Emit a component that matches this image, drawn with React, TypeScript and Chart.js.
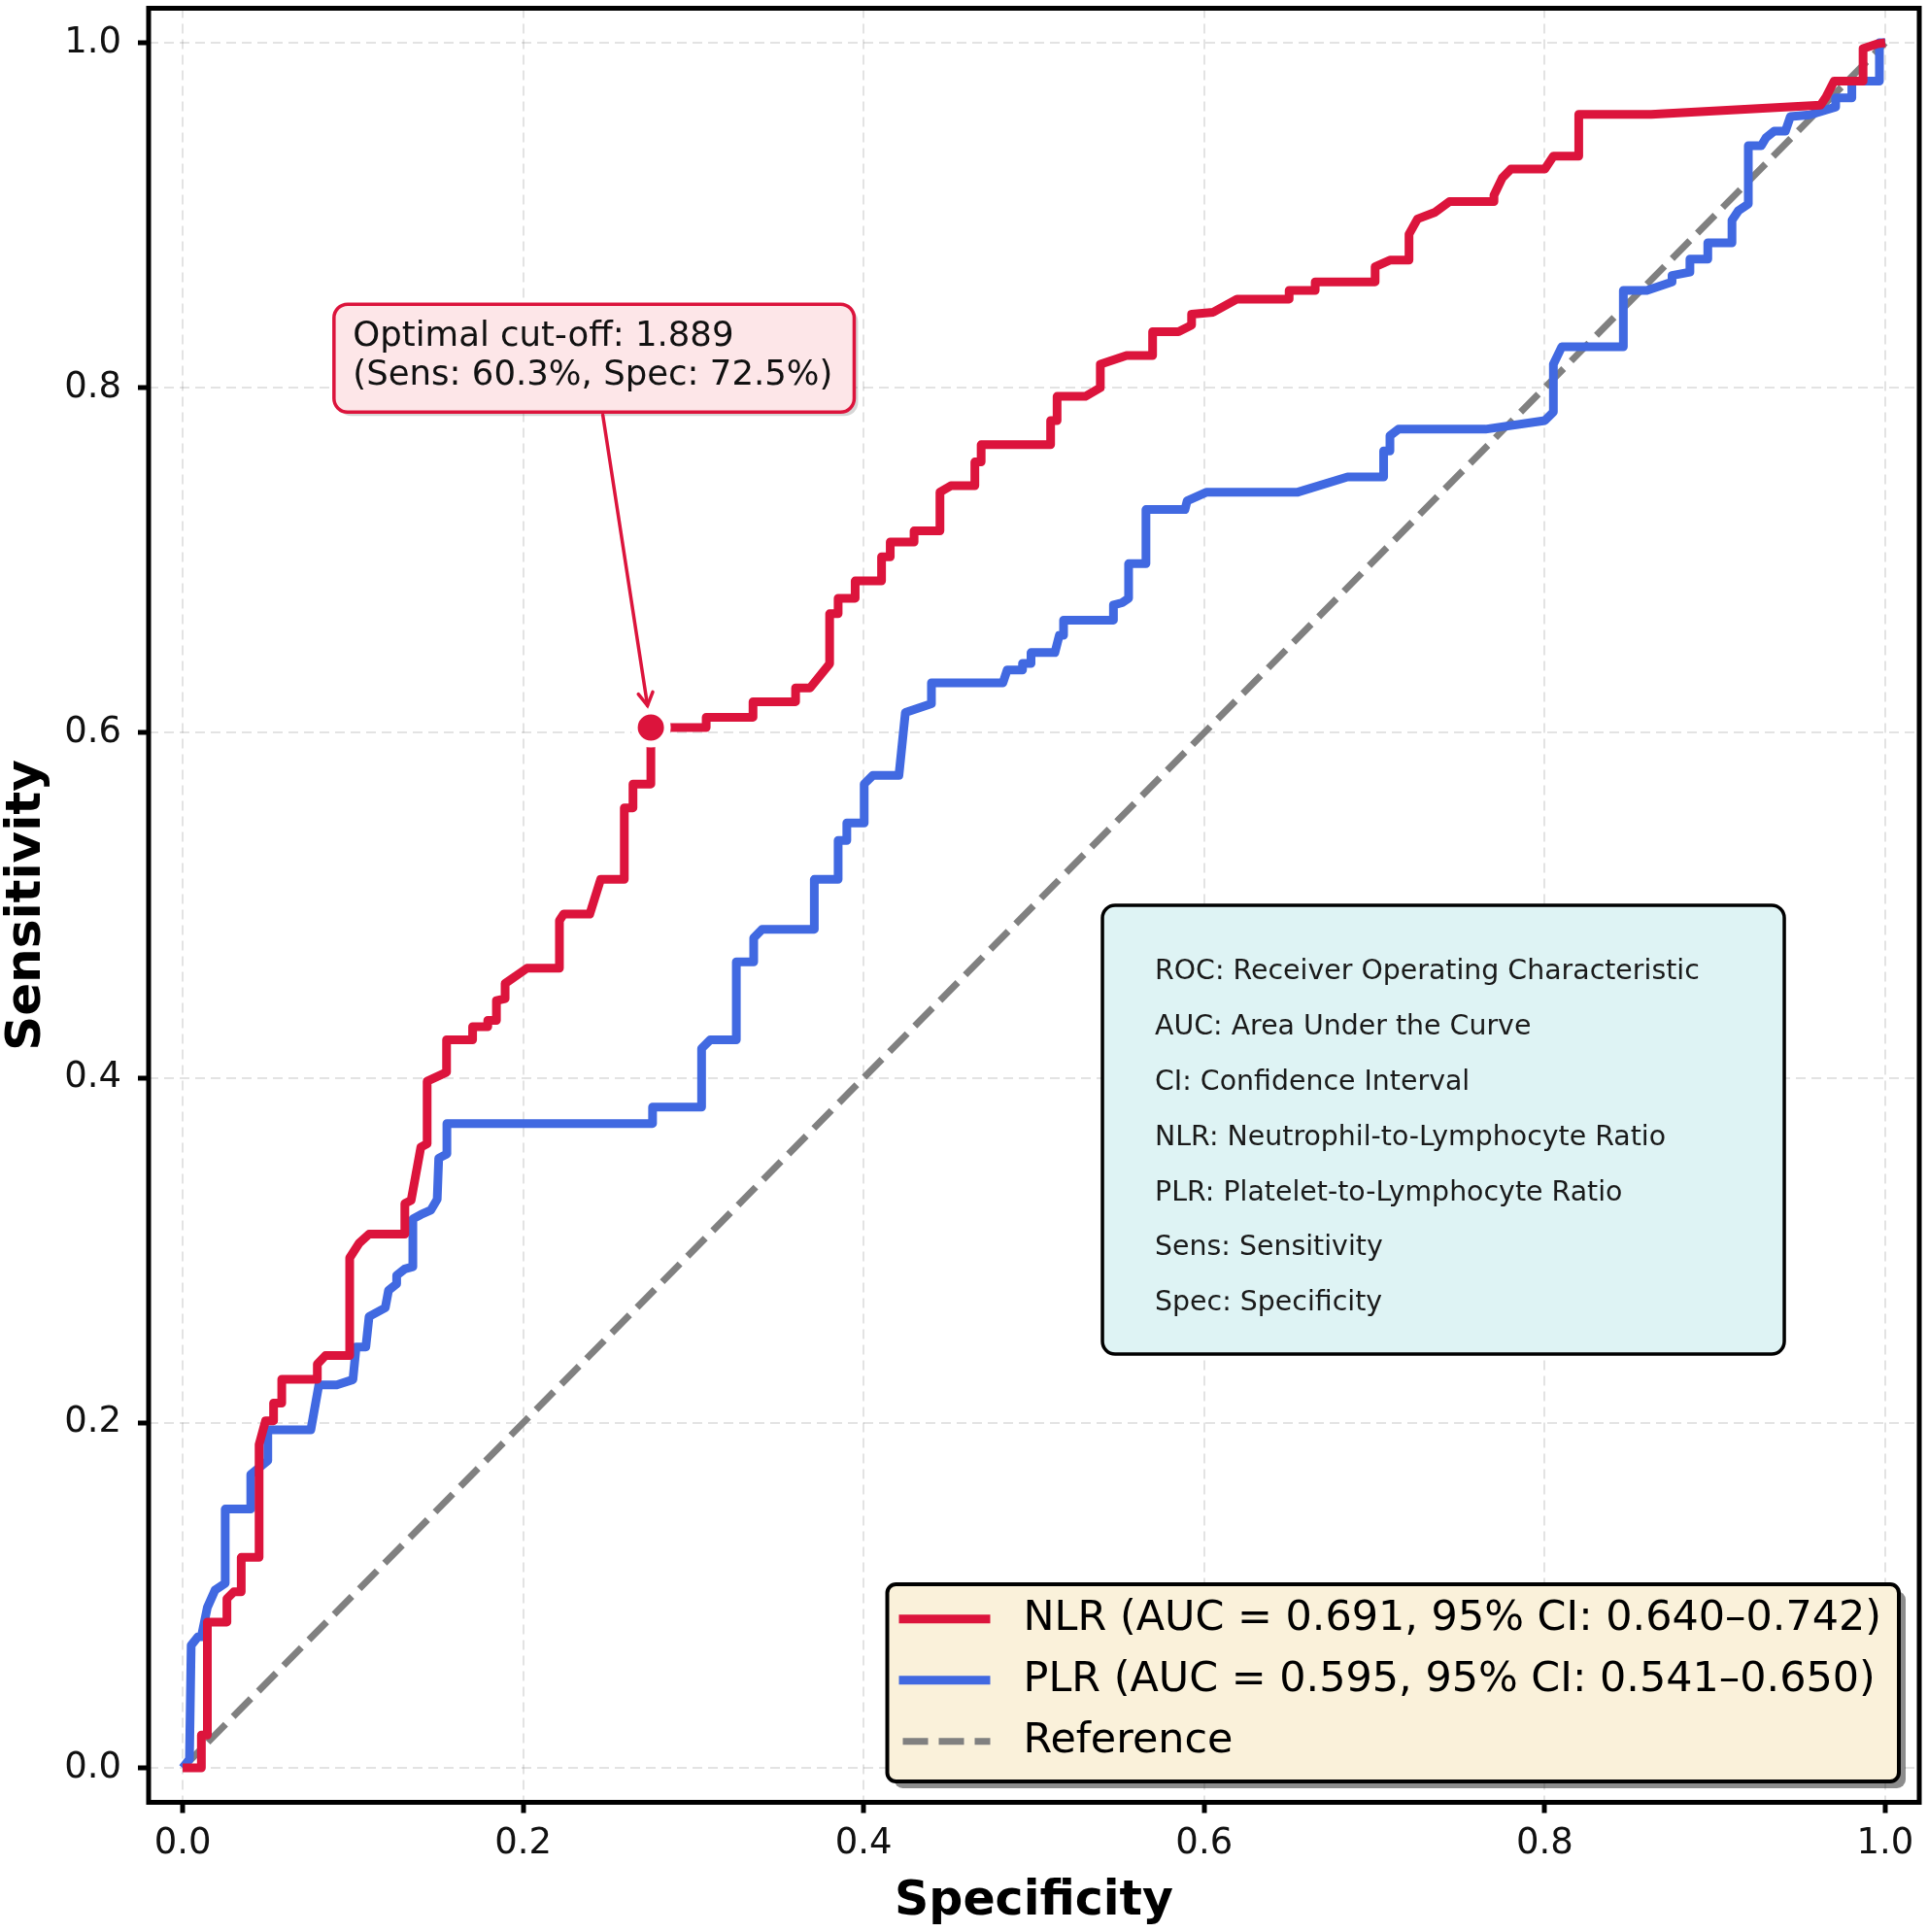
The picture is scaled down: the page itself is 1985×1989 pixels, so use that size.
import React, { useEffect, useRef } from "react";
import { Chart, registerables } from "chart.js";

Chart.register(...registerables);

const FONT = "'DejaVu Sans', 'Noto Sans', sans-serif";

// Axis tick positions (both axes)
const tickValues = [0, 0.2, 0.4, 0.6, 0.8, 1.0];

// NLR ROC curve vertices
const nlrFpr = [
  0, 0.011, 0.011, 0.0145, 0.0145, 0.026, 0.026, 0.03, 0.0344, 0.0344, 0.0449, 0.0449, 0.0487, 0.0534, 0.0534,
  0.0582, 0.0582, 0.0791, 0.0791, 0.0839, 0.0981, 0.0981, 0.1038, 0.1095, 0.1305, 0.1305, 0.1342, 0.1399, 0.1436,
  0.1436, 0.155, 0.155, 0.1703, 0.1703, 0.1792, 0.1792, 0.1843, 0.1843, 0.1894, 0.1894, 0.2022, 0.2213, 0.2213,
  0.2238, 0.2391, 0.2455, 0.2594, 0.2594, 0.2645, 0.2645, 0.275, 0.275, 0.3075, 0.3075, 0.335, 0.335, 0.36, 0.36,
  0.3685, 0.38, 0.38, 0.385, 0.385, 0.395, 0.395, 0.4105, 0.4105, 0.4156, 0.4156, 0.4296, 0.4296, 0.4448, 0.4448,
  0.4512, 0.4653, 0.4653, 0.469, 0.469, 0.5098, 0.5098, 0.5136, 0.5136, 0.5302, 0.539, 0.539, 0.5544, 0.5697,
  0.5697, 0.5849, 0.5926, 0.5926, 0.6053, 0.6193, 0.6499, 0.6499, 0.6652, 0.6652, 0.7004, 0.7004, 0.7091, 0.7203,
  0.7203, 0.7253, 0.7353, 0.744, 0.7702, 0.7702, 0.7751, 0.7801, 0.8001, 0.8051, 0.82, 0.82, 0.8625, 0.962, 0.9652,
  0.97, 0.987, 0.987, 0.9956, 1.0,
];
const nlrTpr = [
  0, 0, 0.019, 0.019, 0.0845, 0.0845, 0.098, 0.102, 0.102, 0.122, 0.122, 0.1874, 0.2012, 0.2012, 0.2114, 0.2114,
  0.2252, 0.2252, 0.234, 0.239, 0.239, 0.2956, 0.3043, 0.3094, 0.3094, 0.3271, 0.329, 0.3598, 0.3617, 0.398, 0.4032,
  0.422, 0.422, 0.4296, 0.4296, 0.4333, 0.4333, 0.4447, 0.4459, 0.4547, 0.4635, 0.4635, 0.4911, 0.4949, 0.4949,
  0.515, 0.515, 0.5565, 0.5565, 0.5703, 0.5703, 0.603, 0.603, 0.609, 0.609, 0.618, 0.618, 0.626, 0.626, 0.64, 0.669,
  0.669, 0.678, 0.678, 0.688, 0.688, 0.702, 0.702, 0.7106, 0.7106, 0.717, 0.717, 0.7395, 0.7432, 0.7432, 0.757,
  0.757, 0.767, 0.767, 0.781, 0.781, 0.795, 0.795, 0.8, 0.8136, 0.8187, 0.8187, 0.8325, 0.8325, 0.8363, 0.8426,
  0.8438, 0.8514, 0.8514, 0.8564, 0.8564, 0.8614, 0.8614, 0.8702, 0.874, 0.874, 0.889, 0.8979, 0.9016, 0.9079,
  0.9079, 0.9116, 0.9217, 0.9268, 0.9268, 0.9343, 0.9343, 0.9585, 0.9585, 0.9638, 0.9685, 0.9778, 0.9778, 0.9966,
  0.9994, 1.0,
];

// PLR ROC curve vertices
const plrFpr = [
  0, 0.004, 0.005, 0.009, 0.011, 0.0145, 0.019, 0.025, 0.025, 0.04, 0.04, 0.05, 0.05, 0.0753, 0.08, 0.0905, 0.1,
  0.1019, 0.1076, 0.1095, 0.119, 0.1209, 0.1257, 0.1257, 0.1305, 0.1352, 0.1352, 0.1399, 0.1457, 0.1495, 0.1504,
  0.1552, 0.1552, 0.276, 0.276, 0.3048, 0.3048, 0.3099, 0.3252, 0.3252, 0.3354, 0.3354, 0.3404, 0.371, 0.371, 0.385,
  0.385, 0.3901, 0.3901, 0.4003, 0.4003, 0.4054, 0.4207, 0.4245, 0.4398, 0.4398, 0.4818, 0.4843, 0.4933, 0.4933,
  0.4983, 0.4983, 0.5123, 0.5149, 0.5174, 0.5174, 0.5467, 0.5467, 0.5518, 0.5556, 0.5556, 0.5658, 0.5658, 0.5887,
  0.59, 0.6015, 0.655, 0.6842, 0.7054, 0.7054, 0.7091, 0.7091, 0.7141, 0.7652, 0.8001, 0.8051, 0.8051, 0.81, 0.8462,
  0.8462, 0.86, 0.8748, 0.8748, 0.8853, 0.8853, 0.8958, 0.8958, 0.91, 0.91, 0.9139, 0.9196, 0.9196, 0.9272, 0.93,
  0.9348, 0.9414, 0.9443, 0.9557, 0.9709, 0.9709, 0.9804, 0.9804, 0.9966, 0.9966, 1.0,
];
const plrTpr = [
  0, 0.005, 0.071, 0.076, 0.076, 0.093, 0.103, 0.107, 0.15, 0.15, 0.17, 0.178, 0.196, 0.196, 0.222, 0.222, 0.225,
  0.244, 0.244, 0.2616, 0.2667, 0.2767, 0.2805, 0.2855, 0.2892, 0.2905, 0.3182, 0.3207, 0.3232, 0.3295, 0.3534,
  0.3559, 0.3735, 0.3735, 0.383, 0.383, 0.417, 0.422, 0.422, 0.4672, 0.4672, 0.481, 0.4861, 0.4861, 0.515, 0.515,
  0.5376, 0.5376, 0.5477, 0.5477, 0.5703, 0.5753, 0.5753, 0.6118, 0.6168, 0.629, 0.629, 0.6364, 0.6364, 0.6402,
  0.6402, 0.6465, 0.6465, 0.6565, 0.6565, 0.6653, 0.6653, 0.6741, 0.6754, 0.6779, 0.698, 0.698, 0.7294, 0.7294,
  0.7344, 0.7395, 0.7395, 0.7483, 0.7483, 0.7634, 0.7634, 0.7722, 0.776, 0.776, 0.781, 0.786, 0.8136, 0.8237, 0.8237,
  0.8564, 0.8564, 0.8614, 0.8651, 0.8671, 0.8746, 0.8746, 0.884, 0.884, 0.8971, 0.9028, 0.9065, 0.9403, 0.9403,
  0.945, 0.9488, 0.9488, 0.9572, 0.9582, 0.9628, 0.968, 0.968, 0.9778, 0.9778, 1.0, 1.0,
];

// Chance diagonal
const refFpr = [0, 1];
const refTpr = [0, 1];

const seriesLabels = [
  "NLR (AUC = 0.691, 95% CI: 0.640–0.742)",
  "PLR (AUC = 0.595, 95% CI: 0.541–0.650)",
  "Reference",
];
const seriesColors = ["#DC143C", "#4169E1", "#808080"];

// Optimal NLR cut-off (x = 1 - specificity)
const cutoffFpr = 0.275;
const cutoffTpr = 0.603;
const cutoffText = ["Optimal cut-off: 1.889", "(Sens: 60.3%, Spec: 72.5%)"];
const cutoffTextFpr = 0.1;
const cutoffTextTpr = 0.818;

const abbreviations = [
  "ROC: Receiver Operating Characteristic",
  "AUC: Area Under the Curve",
  "CI: Confidence Interval",
  "NLR: Neutrophil-to-Lymphocyte Ratio",
  "PLR: Platelet-to-Lymphocyte Ratio",
  "Sens: Sensitivity",
  "Spec: Specificity",
];

const toPoints = (xs: number[], ys: number[]) => xs.map((x, i) => ({ x, y: ys[i] }));

function roundRectPath(ctx: CanvasRenderingContext2D, x: number, y: number, w: number, h: number, r: number) {
  ctx.beginPath();
  ctx.moveTo(x + r, y);
  ctx.lineTo(x + w - r, y);
  ctx.arcTo(x + w, y, x + w, y + r, r);
  ctx.lineTo(x + w, y + h - r);
  ctx.arcTo(x + w, y + h, x + w - r, y + h, r);
  ctx.lineTo(x + r, y + h);
  ctx.arcTo(x, y + h, x, y + h - r, r);
  ctx.lineTo(x, y + r);
  ctx.arcTo(x, y, x + r, y, r);
  ctx.closePath();
}

const overlayPlugin = {
  id: "rocOverlay",
  afterDraw(chart: any) {
    const { ctx, chartArea: ca, scales } = chart;
    const xs = scales.x;
    const ys = scales.y;
    const caW = ca.right - ca.left;
    const caH = ca.bottom - ca.top;
    ctx.save();

    // axes frame
    ctx.strokeStyle = "#000";
    ctx.lineWidth = 5;
    ctx.setLineDash([]);
    ctx.strokeRect(ca.left, ca.top, caW, caH);

    // abbreviations box
    {
      const left = ca.left + 0.5387 * caW;
      const top = ca.top + 0.5 * caH;
      const w = 702;
      const h = 462;
      roundRectPath(ctx, left, top, w, h, 13);
      ctx.fillStyle = "rgb(222,243,244)";
      ctx.fill();
      ctx.lineWidth = 3.5;
      ctx.strokeStyle = "#000";
      ctx.stroke();
      ctx.font = `28.4px ${FONT}`;
      ctx.fillStyle = "#1a1a1a";
      ctx.textAlign = "left";
      ctx.textBaseline = "middle";
      abbreviations.forEach((line, i) => {
        ctx.fillText(line, left + 54, top + 69 + i * 56.8);
      });
    }

    // cut-off annotation
    {
      ctx.font = `35.5px ${FONT}`;
      const tx = xs.getPixelForValue(cutoffTextFpr);
      const tc = ys.getPixelForValue(cutoffTextTpr);
      const tw = Math.max(...cutoffText.map((s) => ctx.measureText(s).width));
      const bx = tx - 19.5;
      const by = tc - 54;
      const bw = tw + 41.5;
      const bh = 111;
      ctx.fillStyle = "rgba(0,0,0,0.16)";
      roundRectPath(ctx, bx + 4, by + 4, bw, bh, 14);
      ctx.fill();
      roundRectPath(ctx, bx, by, bw, bh, 14);
      ctx.fillStyle = "#FDE6E8";
      ctx.fill();
      ctx.strokeStyle = seriesColors[0];
      ctx.lineWidth = 3.5;
      ctx.stroke();
      ctx.fillStyle = "#111";
      ctx.textAlign = "left";
      ctx.textBaseline = "middle";
      ctx.fillText(cutoffText[0], tx, tc - 20);
      ctx.fillText(cutoffText[1], tx, tc + 20);

      const px = xs.getPixelForValue(cutoffFpr);
      const py = ys.getPixelForValue(cutoffTpr);
      const cx = bx + bw / 2;
      const cy = by + bh / 2;
      const len = Math.hypot(px - cx, py - cy);
      const ux = (px - cx) / len;
      const uy = (py - cy) / len;
      const sy = by + bh + 3;
      const sx = cx + ux * ((sy - cy) / uy);
      const ex = px - ux * 23;
      const ey = py - uy * 23;
      ctx.beginPath();
      ctx.moveTo(sx, sy);
      ctx.lineTo(ex, ey);
      ctx.lineWidth = 3.5;
      ctx.lineCap = "round";
      ctx.stroke();
      const hl = 13;
      const hw = 7.5;
      ctx.beginPath();
      ctx.moveTo(ex - ux * hl + uy * hw, ey - uy * hl - ux * hw);
      ctx.lineTo(ex, ey);
      ctx.lineTo(ex - ux * hl - uy * hw, ey - uy * hl + ux * hw);
      ctx.stroke();
      ctx.lineCap = "butt";
    }

    // legend
    {
      const ds = chart.data.datasets.slice(0, 3);
      ctx.font = `42.9px ${FONT}`;
      const maxW = Math.max(...ds.map((d: any) => ctx.measureText(d.label).width));
      const right = ca.right - 21;
      const bottom = ca.bottom - 21.5;
      const h = 203;
      const w = 140 + maxW + 18;
      const left = right - w;
      const top = bottom - h;
      roundRectPath(ctx, left + 7, top + 7, w, h, 9);
      ctx.fillStyle = "rgba(0,0,0,0.45)";
      ctx.fill();
      roundRectPath(ctx, left, top, w, h, 9);
      ctx.fillStyle = "rgb(250,241,218)";
      ctx.fill();
      ctx.strokeStyle = "#000";
      ctx.lineWidth = 4;
      ctx.stroke();
      ds.forEach((d: any, i: number) => {
        const yy = top + 35.7 + i * 63;
        ctx.beginPath();
        ctx.setLineDash(d.borderDash || []);
        ctx.lineWidth = d.borderWidth;
        ctx.strokeStyle = d.borderColor;
        ctx.moveTo(left + (d.borderDash ? 16 : 12), yy);
        ctx.lineTo(left + 106, yy);
        ctx.stroke();
        ctx.setLineDash([]);
        ctx.fillStyle = "#000";
        ctx.textAlign = "left";
        ctx.textBaseline = "middle";
        ctx.fillText(d.label, left + 140, yy);
      });
    }

    ctx.restore();
  },
};

// Scales keep a fixed size and add no label overflow padding
const fixScaleSize = (size: { width?: number; height?: number }) => (scale: any) => {
  if (size.width !== undefined) scale.width = size.width;
  if (size.height !== undefined) scale.height = size.height;
  scale.paddingTop = 0;
  scale.paddingBottom = 0;
  scale.paddingLeft = 0;
  scale.paddingRight = 0;
};

export default function App() {
  const canvasRef = useRef<HTMLCanvasElement | null>(null);

  useEffect(() => {
    const canvas = canvasRef.current;
    if (!canvas) return;

    const gridStyle = {
      color: "rgba(0,0,0,0.11)",
      lineWidth: 2,
      tickLength: 11,
      tickWidth: 5,
      tickColor: "#000",
      drawTicks: true,
    };
    const setTicks = (scale: any) => {
      scale.ticks = tickValues.map((v) => ({ value: v }));
    };

    const chart = new Chart(canvas, {
      type: "scatter",
      data: {
        datasets: [
          {
            label: seriesLabels[0],
            data: toPoints(nlrFpr, nlrTpr),
            showLine: true,
            borderColor: seriesColors[0],
            backgroundColor: seriesColors[0],
            borderWidth: 9,
            pointRadius: 0,
            tension: 0,
            borderJoinStyle: "round",
            order: 1,
          },
          {
            label: seriesLabels[1],
            data: toPoints(plrFpr, plrTpr),
            showLine: true,
            borderColor: seriesColors[1],
            backgroundColor: seriesColors[1],
            borderWidth: 9,
            pointRadius: 0,
            tension: 0,
            borderJoinStyle: "round",
            order: 2,
          },
          {
            label: seriesLabels[2],
            data: toPoints(refFpr, refTpr),
            showLine: true,
            borderColor: seriesColors[2],
            backgroundColor: seriesColors[2],
            borderWidth: 7,
            borderDash: [26, 11],
            pointRadius: 0,
            order: 3,
          },
          {
            label: "Optimal cut-off",
            data: [{ x: cutoffFpr, y: cutoffTpr }],
            showLine: false,
            pointRadius: 17,
            pointBackgroundColor: seriesColors[0],
            pointBorderColor: "#ffffff",
            pointBorderWidth: 7,
            order: 0,
          },
        ],
      } as any,
      options: {
        responsive: false,
        animation: false,
        devicePixelRatio: 1,
        events: [],
        layout: { autoPadding: false, padding: { left: 0, top: 8.5, right: 9, bottom: 0 } },
        plugins: {
          legend: { display: false },
          tooltip: { enabled: false },
        },
        scales: {
          x: {
            type: "linear",
            min: -0.02,
            max: 1.02,
            afterBuildTicks: setTicks,
            afterFit: fixScaleSize({ height: 133.5 }),
            grid: gridStyle,
            border: { display: false, dash: [10, 6] },
            ticks: {
              font: { family: FONT, size: 37 },
              color: "#111",
              padding: 10,
              maxRotation: 0,
              autoSkip: false,
              callback: (v: any) => Number(v).toFixed(1),
            },
            title: {
              display: true,
              text: "Specificity",
              color: "#000",
              font: { family: FONT, size: 49, weight: "bold", lineHeight: 1.2 },
              padding: { top: 0, bottom: 1 },
            },
          },
          y: {
            type: "linear",
            min: -0.02,
            max: 1.02,
            afterBuildTicks: setTicks,
            afterFit: fixScaleSize({ width: 153 }),
            grid: gridStyle,
            border: { display: false, dash: [10, 6] },
            ticks: {
              font: { family: FONT, size: 37 },
              color: "#111",
              padding: 17,
              autoSkip: false,
              callback: (v: any) => Number(v).toFixed(1),
            },
            title: {
              display: true,
              text: "Sensitivity",
              color: "#000",
              font: { family: FONT, size: 50, weight: "bold", lineHeight: 1.0 },
              padding: { top: 3, bottom: 0 },
            },
          },
        },
      } as any,
      plugins: [overlayPlugin],
    });

    return () => chart.destroy();
  }, []);

  return (
    <div style={{ position: "fixed", left: 0, top: 0, width: 1985, height: 1989, background: "#fff" }}>
      <canvas ref={canvasRef} width={1985} height={1989} style={{ display: "block" }} />
    </div>
  );
}
